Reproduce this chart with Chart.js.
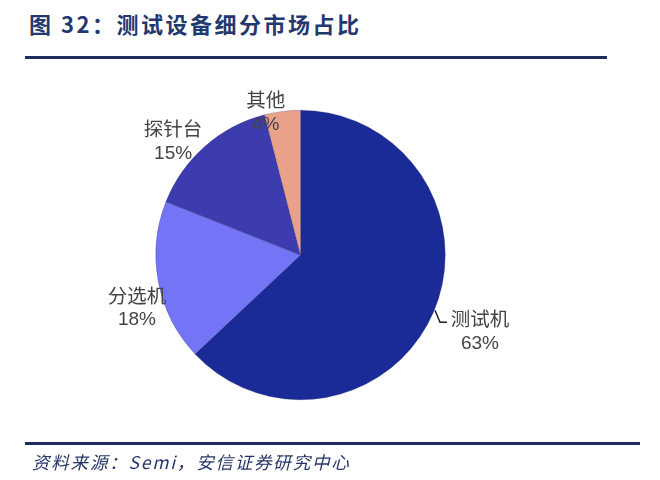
<!DOCTYPE html>
<html>
<head>
<meta charset="utf-8">
<script src="https://cdn.jsdelivr.net/npm/chart.js@4"></script>
<style>
  body { margin: 0; background: #fff; width: 660px; height: 480px; position: relative; overflow: hidden; }
  #title { position: absolute; left: 29px; top: 7px; font: bold 22px "Noto Sans CJK SC", sans-serif; color: #22386e; letter-spacing: 2.5px; }
  .rule { position: absolute; left: 25px; height: 3px; background: #1f2d5e; }
  #source { position: absolute; left: 32px; top: 449px; font: italic 17.5px "Noto Sans CJK SC", sans-serif; color: #243566; letter-spacing: 1.8px; }
  #wrap { position: absolute; left: 0; top: 0; width: 660px; height: 480px; }
</style>
</head>
<body>
<div id="title">图 32：测试设备细分市场占比</div>
<div class="rule" style="top:56px;width:582px"></div>
<div id="wrap"><canvas id="pie"></canvas></div>
<div class="rule" style="top:442px;width:615px"></div>
<div id="source">资料来源：Semi，安信证券研究中心</div>
<script>
const categorias = ["测试机", "分选机", "探针台", "其他"];
const porcentajes = [63, 18, 15, 4];
const colores = ["#1a2b98", "#7474f6", "#3c3cae", "#e9a189"];

// where each label sits, as fractions of the radius from the pie centre
const posEtiquetas = [
  { x: 1.24, y: 0.52 },
  { x: -1.13, y: 0.36 },
  { x: -0.88, y: -0.79 },
  { x: -0.24, y: -0.99 },
];

const etiquetas = {
  id: "etiquetas",
  afterDatasetsDraw(chart) {
    const ctx = chart.ctx;
    const arc = chart.getDatasetMeta(0).data[0];
    const cx = arc.x, cy = arc.y, r = arc.outerRadius;
    ctx.save();
    ctx.fillStyle = "#444";
    ctx.textAlign = "center";
    ctx.textBaseline = "middle";
    categorias.forEach((c, i) => {
      const x = cx + posEtiquetas[i].x * r;
      const y = cy + posEtiquetas[i].y * r;
      ctx.font = '19.5px "Noto Sans CJK SC", sans-serif';
      ctx.fillText(c, x, y - 12);
      ctx.font = '19px "Liberation Sans", sans-serif';
      ctx.fillText(porcentajes[i] + "%", x, y + 13);
    });
    // leader line for 测试机
    const lx = cx + posEtiquetas[0].x * r;
    const ly = cy + posEtiquetas[0].y * r;
    ctx.strokeStyle = "#222";
    ctx.lineWidth = 1.5;
    ctx.beginPath();
    ctx.moveTo(lx - 45, ly - 20);
    ctx.lineTo(lx - 40, ly - 8);
    ctx.lineTo(lx - 33, ly - 8);
    ctx.stroke();
    ctx.restore();
  }
};

new Chart(document.getElementById("pie"), {
  type: "pie",
  data: {
    labels: categorias,
    datasets: [{
      data: porcentajes,
      backgroundColor: colores,
      borderColor: "rgba(40,40,90,0.5)",
      borderWidth: 0.5,
    }]
  },
  options: {
    responsive: true,
    maintainAspectRatio: false,
    animation: false,
    layout: { padding: { top: 110, bottom: 80, left: 155, right: 214 } },
    plugins: { legend: { display: false }, tooltip: { enabled: false } }
  },
  plugins: [etiquetas]
});
</script>
</body>
</html>
